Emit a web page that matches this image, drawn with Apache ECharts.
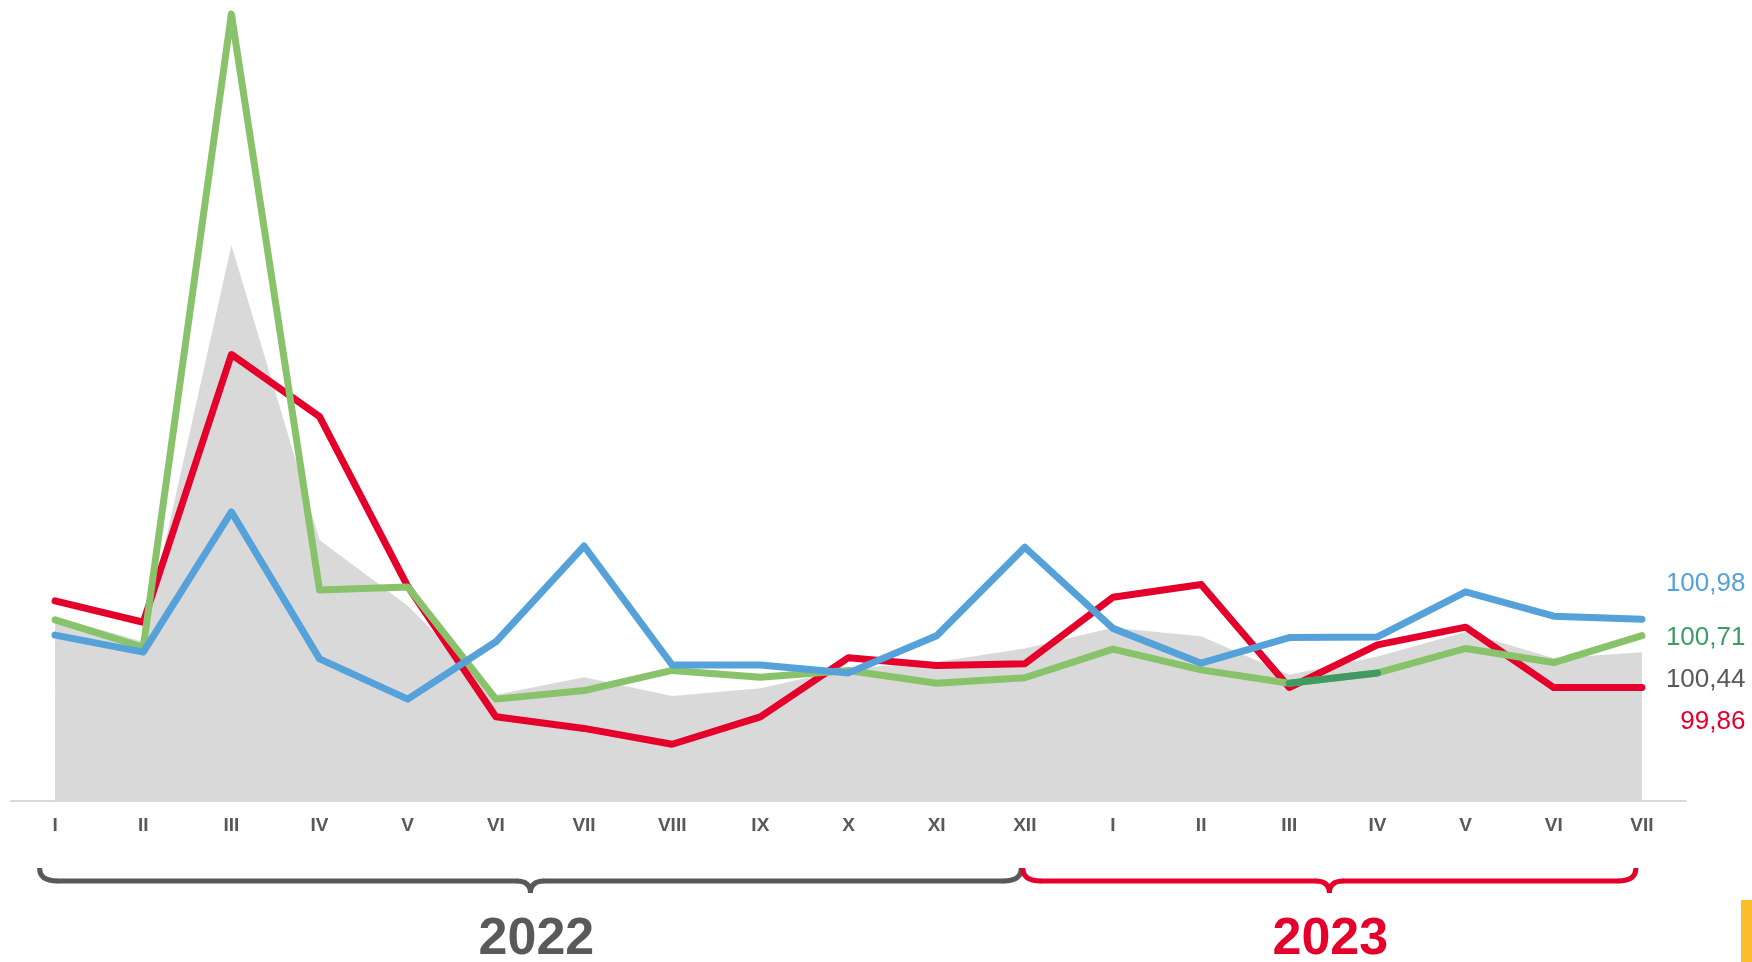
<!DOCTYPE html>
<html>
<head>
<meta charset="utf-8">
<script src="https://cdn.jsdelivr.net/npm/echarts@6/dist/echarts.min.js"></script>
<style>
html,body{margin:0;padding:0;background:#fff;}
#chart{width:1752px;height:962px;}
</style>
</head>
<body>
<div id="chart"></div>
<script>
// ---- data ----
const categories = ['I','II','III','IV','V','VI','VII','VIII','IX','X','XI','XII','I','II','III','IV','V','VI','VII'];
const grayArea = [101.02, 100.61, 107.11, 102.28, 101.20, 99.74, 100.03, 99.72, 99.85, 100.17, 100.28, 100.50, 100.84, 100.70, 100.07, 100.37, 100.77, 100.34, 100.44];
const redLine  = [101.28, 100.93, 105.32, 104.30, 101.52, 99.38, 99.19, 98.93, 99.38, 100.35, 100.22, 100.25, 101.34, 101.55, 99.86, 100.56, 100.85, 99.86, 99.86];
const greenLine = [100.97, 100.52, 110.90, 101.46, 101.51, 99.67, 99.81, 100.14, 100.03, 100.14, 99.93, 100.02, 100.49, 100.15, 99.93, 100.10, 100.50, 100.27, 100.71];
const blueLine = [100.72, 100.44, 102.74, 100.33, 99.67, 100.61, 102.18, 100.23, 100.23, 100.10, 100.71, 102.16, 100.83, 100.26, 100.68, 100.69, 101.43, 101.03, 100.98];
const highlightRange = [14, 15]; // darker green segment (2023 III–IV)
const years = [
  { label: '2022', from: 0, to: 11, color: '#595959' },
  { label: '2023', from: 11, to: 18, color: '#e4002b' }
];

const C = { red: '#e4002b', green: '#88c26b', darkGreen: '#3f9a63', blue: '#55a1d9', gray: '#d9d9d9', text: '#595959' };
const fmt = v => v.toFixed(2).replace('.', ',');
const last = categories.length - 1;
const LW = 7;

const darkSeg = greenLine.map((v, i) => (i >= highlightRange[0] && i <= highlightRange[1]) ? v : null);

function endMark(arr, color, dy) {
  return {
    silent: true,
    symbol: 'circle',
    symbolSize: 1,
    itemStyle: { color: 'rgba(0,0,0,0)' },
    data: [{ coord: [last, arr[last]], value: arr[last] }],
    label: {
      show: true,
      position: [104, dy],
      align: 'right',
      verticalAlign: 'middle',
      color: color,
      fontSize: 26,
      fontFamily: 'Liberation Sans, Arial, sans-serif',
      formatter: () => fmt(arr[last])
    }
  };
}

const lineBase = {
  type: 'line',
  showSymbol: false,
  symbol: 'none',
  silent: true,
  animation: false
};

const chart = echarts.init(document.getElementById('chart'), null, { renderer: 'canvas' });
chart.setOption({
  animation: false,
  backgroundColor: '#ffffff',
  grid: { left: 11, right: 66, top: 8, bottom: 161, containLabel: false },
  xAxis: {
    type: 'category',
    data: categories,
    boundaryGap: true,
    axisLine: { show: true, lineStyle: { color: '#d9d9d9', width: 2 } },
    axisTick: { show: false },
    axisLabel: {
      color: C.text,
      fontSize: 19,
      fontWeight: 'bold',
      fontFamily: "'Liberation Sans Narrow', 'Arial Narrow', 'Liberation Sans', sans-serif",
      margin: 15,
      interval: 0
    }
  },
  yAxis: {
    type: 'value',
    min: 98,
    max: 111,
    show: false,
    splitLine: { show: false }
  },
  series: [
    Object.assign({}, lineBase, {
      name: 'gray', data: grayArea, z: 1,
      lineStyle: { width: 0, opacity: 0 },
      areaStyle: { color: C.gray, opacity: 1 },
      markPoint: endMark(grayArea, C.text, 28)
    }),
    Object.assign({}, lineBase, {
      name: 'red', data: redLine, z: 2,
      lineStyle: { color: C.red, width: LW, cap: 'round', join: 'round' },
      markPoint: endMark(redLine, C.red, 35)
    }),
    Object.assign({}, lineBase, {
      name: 'green', data: greenLine, z: 3,
      lineStyle: { color: C.green, width: LW, cap: 'round', join: 'round' },
      markPoint: endMark(greenLine, C.darkGreen, 3)
    }),
    Object.assign({}, lineBase, {
      name: 'greenHighlight', data: darkSeg, z: 4, connectNulls: false,
      lineStyle: { color: C.darkGreen, width: LW, cap: 'round', join: 'round' }
    }),
    Object.assign({}, lineBase, {
      name: 'blue', data: blueLine, z: 5,
      lineStyle: { color: C.blue, width: LW, cap: 'round', join: 'round' },
      markPoint: endMark(blueLine, C.blue, -35)
    })
  ]
});

// braces and year labels, positioned from the category axis
const px = i => chart.convertToPixel({ xAxisIndex: 0 }, i);
const yTip = 868, yLine = 881, yPoint = 893;
const graphics = [];
function strokeStyle(color) {
  return { fill: null, stroke: color, lineWidth: 5, lineCap: 'butt' };
}
years.forEach((yr, k) => {
  let x0, x1, textShift;
  if (k === 0) { x0 = px(yr.from) - 15.5; x1 = px(yr.to) - 3.5; textShift = 6; }
  else { x0 = px(yr.from) - 2; x1 = px(yr.to) - 6; textShift = 1; }
  const xc = (x0 + x1) / 2;
  const st = strokeStyle(yr.color);
  const pieces = [
    { type: 'bezierCurve', shape: { x1: x0, y1: yTip, cpx1: x0, cpy1: yLine, x2: x0 + 18, y2: yLine } },
    { type: 'line', shape: { x1: x0 + 17, y1: yLine, x2: xc - 13, y2: yLine } },
    { type: 'bezierCurve', shape: { x1: xc - 14, y1: yLine, cpx1: xc, cpy1: yLine, x2: xc, y2: yPoint } },
    { type: 'bezierCurve', shape: { x1: xc, y1: yPoint, cpx1: xc, cpy1: yLine, x2: xc + 14, y2: yLine } },
    { type: 'line', shape: { x1: xc + 13, y1: yLine, x2: x1 - 17, y2: yLine } },
    { type: 'bezierCurve', shape: { x1: x1 - 18, y1: yLine, cpx1: x1, cpy1: yLine, x2: x1, y2: yTip } }
  ];
  pieces.forEach(p => { p.silent = true; p.style = Object.assign({}, st); graphics.push(p); });
  graphics.push({
    type: 'text', silent: true,
    x: xc + textShift, y: 940,
    style: {
      text: yr.label, fill: yr.color,
      font: "bold 52px 'Liberation Sans', Arial, sans-serif",
      textAlign: 'center', textVerticalAlign: 'middle'
    }
  });
});
graphics.push({
  type: 'rect', silent: true,
  shape: { x: 1741, y: 900, width: 11, height: 62 },
  style: { fill: '#fbbd2b' }
});
chart.setOption({ graphic: graphics });
</script>
</body>
</html>
